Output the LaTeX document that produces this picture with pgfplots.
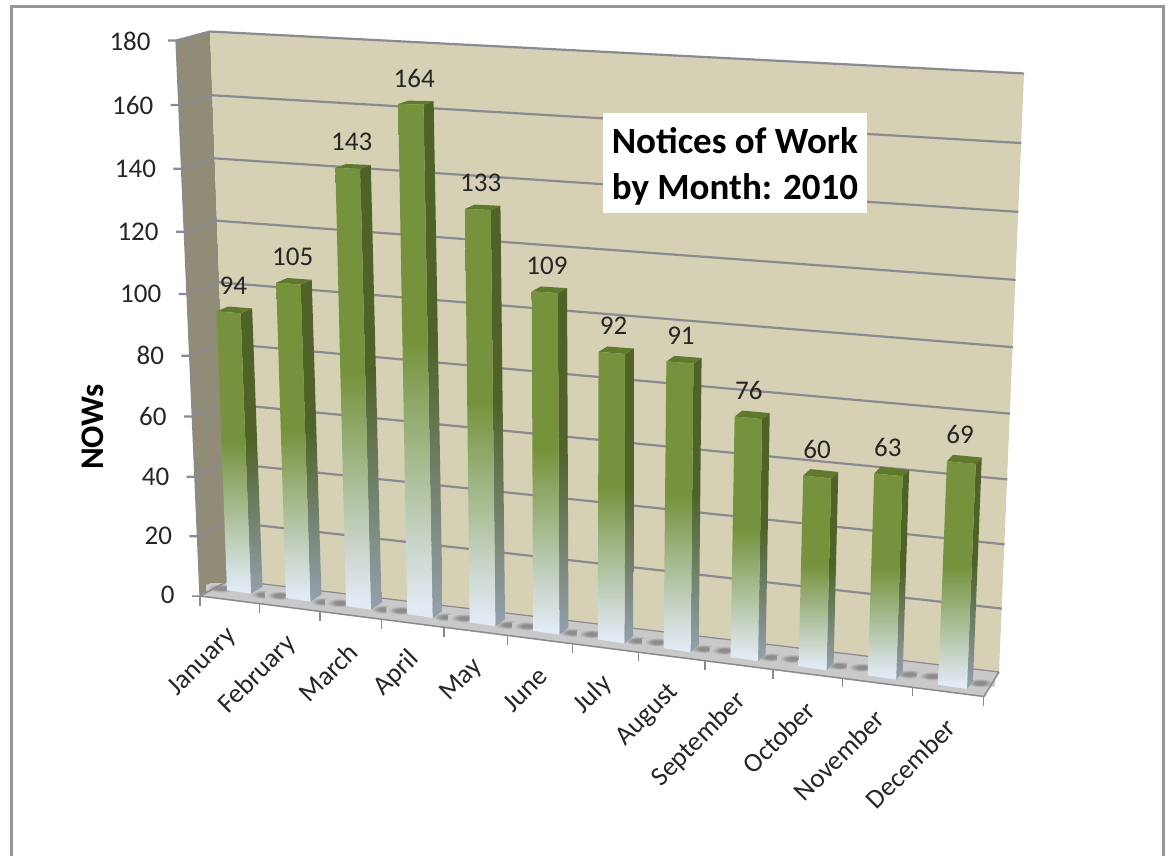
\documentclass[border=0pt]{standalone}
\usepackage{fontspec}
\setmainfont{Carlito}
\usepackage{pgfplots}
\usepackage{pgfplotstable}
\pgfplotsset{compat=1.18}
\definecolor{wall}{HTML}{D6D1B5}
\definecolor{swall}{HTML}{908C77}
\definecolor{floorc}{HTML}{C9C9C9}
\definecolor{gridc}{HTML}{8A8A90}
\definecolor{frontg}{HTML}{76923C}
\definecolor{frontw}{HTML}{E2EAF5}
\definecolor{sideg}{HTML}{4F6228}
\definecolor{sidew}{HTML}{929EA9}
\definecolor{topg}{HTML}{5F7A2E}
\definecolor{shadowc}{HTML}{8C8C8C}
\pgfdeclareverticalshading{barfront}{100bp}{color(0bp)=(frontw);color(26bp)=(frontw);color(52bp)=(frontg);color(100bp)=(frontg)}
\pgfdeclareverticalshading{barside}{100bp}{color(0bp)=(sidew);color(26bp)=(sidew);color(52bp)=(sideg);color(100bp)=(sideg)}
\pgfdeclareradialshading{floorspot}{\pgfpointorigin}{color(0bp)=(shadowc);color(8bp)=(shadowc);color(22bp)=(floorc);color(50bp)=(floorc)}
\pgfplotstableread{
i month v
0 January 94
1 February 105
2 March 143
3 April 164
4 May 133
5 June 109
6 July 92
7 August 91
8 September 76
9 October 60
10 November 63
11 December 69
}\nowdata
\pgfplotstableread{
k v
0 0
1 20
2 40
3 60
4 80
5 100
6 120
7 140
8 160
9 180
}\ticksdata
\newcommand{\softspot}[2]{%
  \pgfmathsetmacro\sa{#1-15}\pgfmathsetmacro\sb{#1-10}\pgfmathsetmacro\sc{#1+10}\pgfmathsetmacro\sd{#1+15}%
  \pgfmathsetmacro\se{#2-5}\pgfmathsetmacro\sf{#2-3}\pgfmathsetmacro\sg{#2+3}\pgfmathsetmacro\sh{#2+5}%
  \addplot[draw=none,shading=floorspot,mark=none] coordinates {(\sa,\sf)(\sb,\se)(\sc,\se)(\sd,\sf)(\sd,\sg)(\sc,\sh)(\sb,\sh)(\sa,\sg)} --cycle;
}
\begin{document}
\begin{tikzpicture}[declare function={
  xb(\i)=239+58.6*\i+0.57*\i*\i;
  yb(\i)=592+0.133*(xb(\i)-239);
  hh(\i,\v)=(2.892+0.0265*\i)*\v*(1+0.0003*\v);
  xf(\i,\v)=xb(\i)+(xb(\i)-586)*0.000104*hh(\i,\v);
  yf(\i,\v)=yb(\i)-hh(\i,\v);
  hw(\i)=12+0.22*\i;
  sl(\i,\v)=0.15*(1-hh(\i,\v)/600);
  dxd(\i)=11.5-0.0077*(xb(\i)-239);
  dyd(\i,\v)=7+0.1*\i-0.0075*hh(\i,\v);
  ff(\v)=\v*(1+0.0003*\v)/189.72;
  lx(\v)=230-20*\v/180;
  ly(\v)=580-548*ff(\v);
  rx(\v)=999+25*\v/180;
  ry(\v)=672-598*ff(\v);
  fx(\v)=200-24*\v/180;
  fy(\v)=595-554*ff(\v);
  tx(\i)=200+58.83*\i+0.54*\i*\i;
  ty(\i)=596.5+0.1276*(tx(\i)-200);
  midfloor(\x)=0.5*(580+(\x-230)*0.1196+596.5+(\x-200)*0.1276);
}]
\path[use as bounding box] (0,0) rectangle (584pt,428pt);
\begin{axis}[at={(0,0)},anchor=south west,width=584pt,height=428pt,scale only axis,
  xmin=0,xmax=1168,ymin=0,ymax=856,y dir=reverse,axis lines=none,clip=false,
  tick style={draw=none},
  every axis plot/.append style={forget plot}]
% frame
\addplot[draw=gridc!90,line width=1.5pt,mark=none] coordinates {(11,860)(11,7)(1163,7)(1163,860)};
% walls
\addplot[draw=none,fill=swall,mark=none] coordinates {(200,595)(176,41)(210,32)(230,580)} --cycle;
\addplot[draw=none,fill=wall,mark=none] coordinates {(210,32)(1024,74)(999,672)(230,580)} --cycle;
% floor
\addplot[draw=none,fill=floorc,mark=none] coordinates {(200,596)(230,580)(999,672)(984,697)} --cycle;
\addplot[draw=gridc,line width=0.6pt,mark=none] coordinates {(230,580)(999,672)};
% soft shadows on the floor
\pgfplotsforeachungrouped \I in {0,...,11}{
  \pgfmathsetmacro\Xa{xb(\I)+hw(\I)+13}\pgfmathsetmacro\Ya{midfloor(\Xa)}
  \pgfmathsetmacro\Xc{xb(\I)-hw(\I)-6}\pgfmathsetmacro\Yc{midfloor(\Xc)-1}
  \softspot{\Xa}{\Ya}
  \softspot{\Xc}{\Yc}
}
\addplot[draw=gridc,line width=0.75pt,mark=none] coordinates {(192,596)(200,596)(984,696.5)(999,672)};
\addplot[draw=gridc,line width=0.75pt,mark=none] coordinates {(200,596)(230,580)};
% grid lines and value axis ticks
\pgfplotsforeachungrouped \V in {20,40,...,180}{
  \pgfmathsetmacro\ax{fx(\V)-8}\pgfmathsetmacro\ay{fy(\V)}
  \pgfmathsetmacro\bx{fx(\V)}\pgfmathsetmacro\by{fy(\V)}
  \pgfmathsetmacro\cx{lx(\V)}\pgfmathsetmacro\cy{ly(\V)}
  \pgfmathsetmacro\dx{rx(\V)}\pgfmathsetmacro\dy{ry(\V)}
  \addplot[draw=gridc,line width=1.1pt,mark=none] coordinates {(\ax,\ay)(\bx,\by)(\cx,\cy)(\dx,\dy)};
}
\addplot[draw=gridc,line width=0.6pt,mark=none] coordinates {(176,41)(200,596)};
% category ticks
\pgfplotsforeachungrouped \I in {0,...,12}{
  \pgfmathsetmacro\ax{tx(\I)}\pgfmathsetmacro\ay{ty(\I)}
  \pgfmathsetmacro\by{ty(\I)+9}
  \addplot[draw=gridc,line width=0.75pt,mark=none] coordinates {(\ax,\ay)(\ax,\by)};
}
% bars
\pgfplotsforeachungrouped \I in {0,...,11}{
  \pgfplotstablegetelem{\I}{v}\of\nowdata
  \let\Val\pgfplotsretval
  \pgfmathsetmacro\W{hw(\I)}
  \pgfmathsetmacro\Xb{xb(\I)}\pgfmathsetmacro\Yb{yb(\I)}
  \pgfmathsetmacro\Xt{xf(\I,\Val)}\pgfmathsetmacro\Yt{yf(\I,\Val)}
  \pgfmathsetmacro\Sb{sl(\I,0)*\W}\pgfmathsetmacro\St{sl(\I,\Val)*\W}
  \pgfmathsetmacro\Dx{dxd(\I)}\pgfmathsetmacro\Db{dyd(\I,0)}\pgfmathsetmacro\Dt{dyd(\I,\Val)}
  \pgfmathsetmacro\BLx{\Xb-\W}\pgfmathsetmacro\BLy{\Yb-\Sb}
  \pgfmathsetmacro\BRx{\Xb+\W}\pgfmathsetmacro\BRy{\Yb+\Sb}
  \pgfmathsetmacro\TLx{\Xt-\W}\pgfmathsetmacro\TLy{\Yt-\St}
  \pgfmathsetmacro\TRx{\Xt+\W}\pgfmathsetmacro\TRy{\Yt+\St}
  \pgfmathsetmacro\BBx{\BRx+\Dx}\pgfmathsetmacro\BBy{\BRy-\Db}
  \pgfmathsetmacro\UBx{\TRx+\Dx}\pgfmathsetmacro\UBy{\TRy-\Dt}
  \pgfmathsetmacro\ULx{\TLx+\Dx}\pgfmathsetmacro\ULy{\TLy-\Dt}
  \addplot[draw=none,shading=barside,mark=none] coordinates {(\BRx,\BRy)(\BBx,\BBy)(\UBx,\UBy)(\TRx,\TRy)} --cycle;
  \addplot[draw=none,fill=topg,mark=none] coordinates {(\TLx,\TLy)(\TRx,\TRy)(\UBx,\UBy)(\ULx,\ULy)} --cycle;
  \addplot[draw=none,shading=barfront,mark=none] coordinates {(\BLx,\BLy)(\BRx,\BRy)(\TRx,\TRy)(\TLx,\TLy)} --cycle;
}
% data labels
\addplot[only marks,mark size=0pt,draw=none,nodes near coords,point meta=explicit symbolic,
  every node near coord/.append style={anchor=center,inner sep=0pt,font=\fontsize{13.5}{16}\selectfont,text=black!85}]
  table[x expr={xf(\thisrow{i},\thisrow{v})+dxd(\thisrow{i})-7},
        y expr={yf(\thisrow{i},\thisrow{v})-dyd(\thisrow{i},\thisrow{v})-20-0.006*hh(\thisrow{i},\thisrow{v})},meta=v] {\nowdata};
% value axis labels
\addplot[only marks,mark size=0pt,draw=none,nodes near coords,point meta=explicit symbolic,
  every node near coord/.append style={anchor=east,inner sep=0pt,font=\fontsize{13.5}{16}\selectfont,text=black!85}]
  table[x expr={fx(\thisrow{v})-25},y expr={fy(\thisrow{v})},meta=v] {\ticksdata};
% category labels
\addplot[only marks,mark size=0pt,draw=none,nodes near coords,point meta=explicit symbolic,
  every node near coord/.append style={anchor=east,rotate=45,inner sep=0pt,font=\fontsize{13.5}{16}\selectfont,text=black!85}]
  table[x expr={tx(\thisrow{i}+0.5)+3},y expr={ty(\thisrow{i}+0.5)+31.5},meta=month] {\nowdata};
% titles
\node[rotate=90,font=\bfseries\fontsize{16.5}{19}\selectfont,text=black] at (axis cs:93,427) {NOWs};
\node[fill=white,inner sep=0pt,minimum width=132pt,minimum height=50pt] at (axis cs:735,163) {};
\node[inner sep=0pt,font=\bfseries\fontsize{18.5}{23}\selectfont,text=black,align=left] at (axis cs:735,166) {Notices of Work\\by Month: 2010};
\end{axis}
\end{tikzpicture}
\end{document}
